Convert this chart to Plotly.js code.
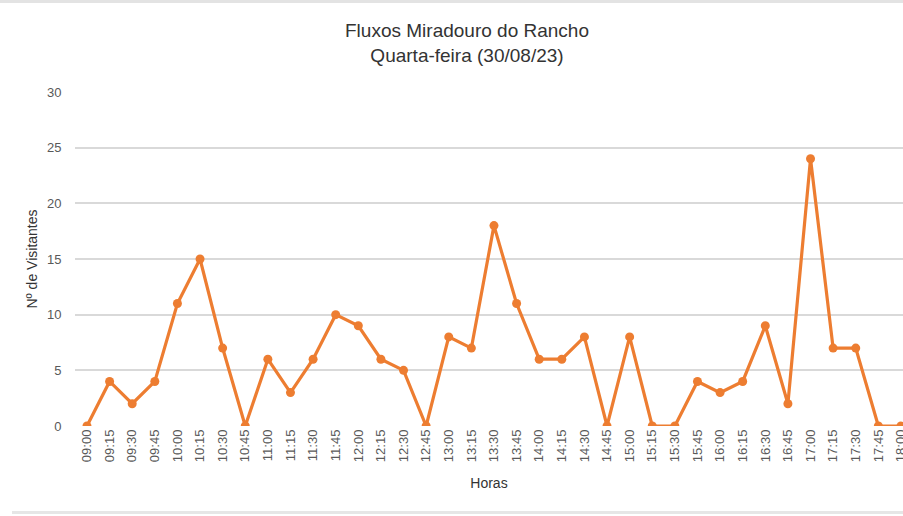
<!DOCTYPE html>
<html>
<head>
<meta charset="utf-8">
<script src="https://cdn.plot.ly/plotly-3.0.1.min.js"></script>
<style>
html,body{margin:0;padding:0;background:#fff;}
#wrap{position:relative;width:903px;height:516px;overflow:hidden;}
#topline{position:absolute;left:0;top:0;width:903px;height:3px;background:#e3e3e3;}
#botline{position:absolute;left:12px;top:511px;width:891px;height:3px;background:#e6e6e6;}
#chart{position:absolute;left:0;top:0;width:903px;height:516px;}
</style>
</head>
<body>
<div id="wrap">
<div id="chart"></div>
<div id="topline"></div>
<div id="botline"></div>
</div>
<script>
const times = ["09:00","09:15","09:30","09:45","10:00","10:15","10:30","10:45","11:00","11:15","11:30","11:45","12:00","12:15","12:30","12:45","13:00","13:15","13:30","13:45","14:00","14:15","14:30","14:45","15:00","15:15","15:30","15:45","16:00","16:15","16:30","16:45","17:00","17:15","17:30","17:45","18:00"];
const visitors = [0,4,2,4,11,15,7,0,6,3,6,10,9,6,5,0,8,7,18,11,6,6,8,0,8,0,0,4,3,4,9,2,24,7,7,0,0];
const yTicks = [0,5,10,15,20,25,30];

const FONT = '"Liberation Sans", Arial, sans-serif';

const trace = {
  type: 'scatter',
  mode: 'lines+markers',
  x: times.map((t,i)=>i),
  y: visitors,
  line: {color: '#ED7D31', width: 3.2},
  marker: {color: '#ED7D31', size: 9},
  hoverinfo: 'x+y'
};

const layout = {
  width: 903,
  height: 516,
  margin: {l: 75, r: 0, t: 92, b: 90},
  paper_bgcolor: 'rgba(0,0,0,0)',
  plot_bgcolor: '#fff',
  showlegend: false,
  font: {family: FONT, color: '#595959', size: 12},
  title: {
    text: 'Fluxos Miradouro do Rancho<br>Quarta-feira (30/08/23)',
    font: {family: FONT, size: 19, color: '#333333'},
    x: 467/903, xref: 'container', xanchor: 'center',
    y: 1 - 37/516, yref: 'container', yanchor: 'middle'
  },
  xaxis: {
    type: 'linear',
    range: [-0.53, 36.09],
    tickmode: 'array',
    tickvals: times.map((t,i)=>i),
    ticktext: times,
    tickangle: -90,
    tickfont: {family: FONT, size: 13, color: '#595959'},
    ticklabeloverflow: 'allow',
    showgrid: false,
    zeroline: false,
    showline: false,
    ticks: '',
    ticklen: 0,
    title: {text: 'Horas', font: {family: FONT, size: 14, color: '#333333'}, standoff: 17}
  },
  yaxis: {
    range: [0, 30],
    tickmode: 'array',
    tickvals: yTicks,
    ticktext: yTicks.map(String),
    tickfont: {family: FONT, size: 13, color: '#595959'},
    gridcolor: '#d9d9d9',
    gridwidth: 1.5,
    zeroline: false,
    showline: false,
    ticks: 'outside',
    ticklen: 10,
    tickcolor: 'rgba(0,0,0,0)',
    title: {text: 'Nº de Visitantes', font: {family: FONT, size: 14, color: '#333333'}, standoff: 6}
  }
};

Plotly.newPlot('chart', [trace], layout, {displayModeBar: false});
</script>
</body>
</html>
